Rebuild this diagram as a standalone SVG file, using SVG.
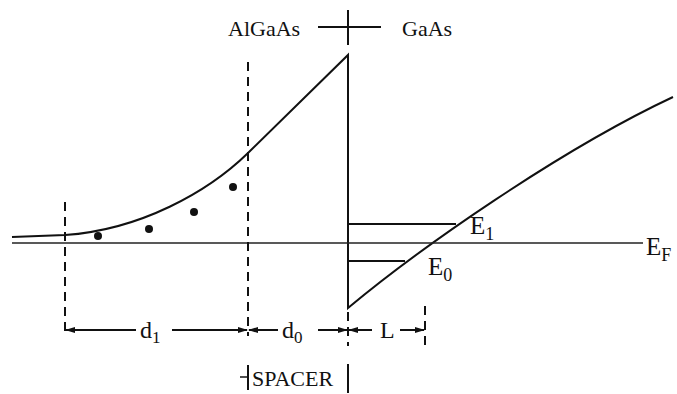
<svg xmlns="http://www.w3.org/2000/svg" width="677" height="394" viewBox="0 0 677 394">
<style>
.ln{fill:none;stroke:#111;stroke-width:2}
.th{fill:none;stroke:#222;stroke-width:1.6}
.ds{fill:none;stroke:#111;stroke-width:2;stroke-dasharray:9,6}
.tx{font-family:"Liberation Serif",serif;fill:#111}
</style>
<defs>
<marker id="ar" markerWidth="10" markerHeight="8" refX="9" refY="4" orient="auto-start-reverse" markerUnits="userSpaceOnUse">
<path d="M0,1 L10,4 L0,7 Z" fill="#111"/>
</marker>
</defs>
<rect width="677" height="394" fill="#fff"/>
<g id="header">
<text class="tx" x="228" y="36" font-size="22">AlGaAs</text>
<line class="ln" x1="318" y1="27" x2="381" y2="27"/>
<line class="ln" x1="348" y1="10" x2="348" y2="45"/>
<text class="tx" x="402" y="36" font-size="22">GaAs</text>
</g>
<g id="bands">
<path class="ln" d="M12,237 L65,235 C140,230 208,192 248,153 L348,55 L348,308 C420,248 560,150 673,97"/>
<line class="th" x1="12" y1="243" x2="643" y2="243"/>
<line class="ln" x1="348" y1="224" x2="456" y2="224"/>
<line class="ln" x1="348" y1="261" x2="405" y2="261"/>
</g>
<g id="dopants" fill="#111">
<circle cx="98" cy="236" r="4"/>
<circle cx="149" cy="229" r="4"/>
<circle cx="194" cy="212" r="4"/>
<circle cx="233" cy="187" r="4"/>
</g>
<g id="boundaries">
<line class="ds" x1="65" y1="202" x2="65" y2="332"/>
<line class="ds" x1="248" y1="62" x2="248" y2="336"/>
<line class="ds" x1="348" y1="312" x2="348" y2="346"/>
<line class="ds" x1="425" y1="306" x2="425" y2="346"/>
</g>
<g id="connectors">
<line class="ln" x1="136" y1="330" x2="66" y2="330" marker-end="url(#ar)"/>
<line class="ln" x1="172" y1="330" x2="247" y2="330" marker-end="url(#ar)"/>
<line class="ln" x1="278" y1="330" x2="249" y2="330" marker-end="url(#ar)"/>
<line class="ln" x1="318" y1="330" x2="347" y2="330" marker-end="url(#ar)"/>
<line class="ln" x1="372" y1="330" x2="349" y2="330" marker-end="url(#ar)"/>
<line class="ln" x1="400" y1="330" x2="424" y2="330" marker-end="url(#ar)"/>
</g>
<g id="labels">
<text class="tx" x="140" y="338" font-size="24">d<tspan font-size="17" dy="5">1</tspan></text>
<text class="tx" x="282" y="338" font-size="24">d<tspan font-size="17" dy="5">0</tspan></text>
<text class="tx" x="380" y="338" font-size="24">L</text>
<text class="tx" x="470" y="234" font-size="25">E<tspan font-size="18" dy="6">1</tspan></text>
<text class="tx" x="428" y="275" font-size="25">E<tspan font-size="18" dy="6">0</tspan></text>
<text class="tx" x="646" y="255" font-size="25">E<tspan font-size="18" dy="6">F</tspan></text>
</g>
<g id="spacer">
<line class="th" x1="240" y1="377" x2="247" y2="377"/>
<line class="ln" x1="248" y1="365" x2="248" y2="390"/>
<line class="ln" x1="348" y1="364" x2="348" y2="393"/>
<text class="tx" x="252" y="386" font-size="22">SPACER</text>
</g>
</svg>
